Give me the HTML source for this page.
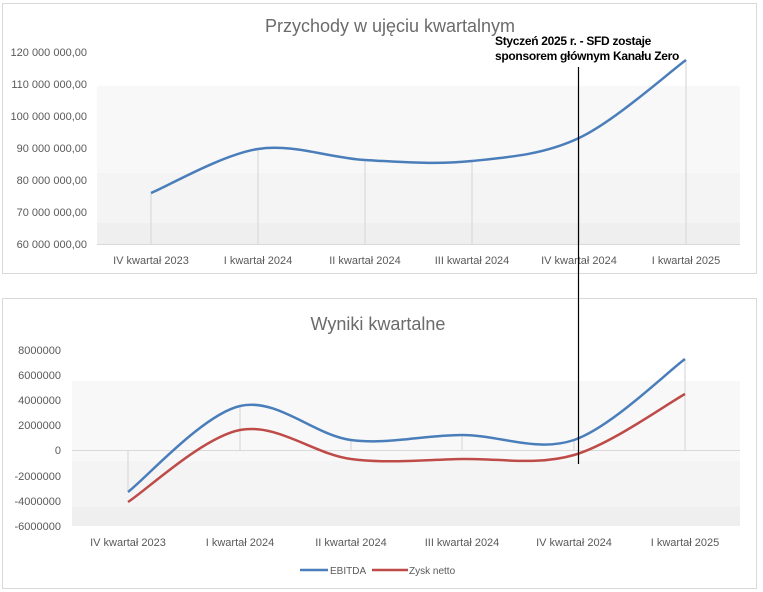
<!DOCTYPE html>
<html><head><meta charset="utf-8"><style>
html,body{margin:0;padding:0;background:#fff;width:763px;height:592px;overflow:hidden}
svg text{font-family:"Liberation Sans",sans-serif}
</style></head><body>
<svg id="s" width="763" height="592" xmlns="http://www.w3.org/2000/svg">
<rect x="0" y="0" width="763" height="592" fill="#fff"/>
<!-- top chart -->
<rect x="2.5" y="3.5" width="754" height="270" fill="#fff" stroke="#d9d9d9"/>
<rect x="97" y="86" width="643" height="87" fill="#f8f8f8"/>
<rect x="97" y="173" width="643" height="50" fill="#f4f4f4"/>
<rect x="97" y="223" width="643" height="21" fill="#efefef"/>
<line x1="97" y1="244.5" x2="740" y2="244.5" stroke="#d9d9d9"/>
<text x="390" y="32" font-size="18" fill="#6b6b6b" text-anchor="middle">Przychody w ujęciu kwartalnym</text>
<g font-size="11" fill="#595959" text-anchor="end">
<text x="87" y="56">120 000 000,00</text><text x="87" y="88">110 000 000,00</text>
<text x="87" y="120">100 000 000,00</text><text x="87" y="152">90 000 000,00</text>
<text x="87" y="184">80 000 000,00</text><text x="87" y="216">70 000 000,00</text>
<text x="87" y="248">60 000 000,00</text></g>
<g font-size="11" fill="#595959" text-anchor="middle">
<text x="151" y="264">IV kwartał 2023</text><text x="258" y="264">I kwartał 2024</text>
<text x="365" y="264">II kwartał 2024</text><text x="472" y="264">III kwartał 2024</text>
<text x="579" y="264">IV kwartał 2024</text><text x="686" y="264">I kwartał 2025</text></g>
<g id="d1" stroke="#d9d9d9" stroke-width="1.2"></g>
<path id="p1" fill="none" stroke="#4a7ebb" stroke-width="2.5"/>
<!-- bottom chart -->
<rect x="2.5" y="298.5" width="754" height="290" fill="#fff" stroke="#d9d9d9"/>
<rect x="72" y="381" width="668" height="80" fill="#f8f8f8"/>
<rect x="72" y="461" width="668" height="46" fill="#f4f4f4"/>
<rect x="72" y="507" width="668" height="19" fill="#efefef"/>
<line x1="72" y1="450.5" x2="740" y2="450.5" stroke="#d9d9d9"/>
<text x="378" y="330" font-size="18" fill="#6b6b6b" text-anchor="middle">Wyniki kwartalne</text>
<g font-size="11" fill="#595959" text-anchor="end">
<text x="61" y="354">8000000</text><text x="61" y="379">6000000</text>
<text x="61" y="404">4000000</text><text x="61" y="429">2000000</text>
<text x="61" y="454">0</text><text x="61" y="480">-2000000</text>
<text x="61" y="505">-4000000</text><text x="61" y="530">-6000000</text></g>
<g font-size="11" fill="#595959" text-anchor="middle">
<text x="128" y="546">IV kwartał 2023</text><text x="240" y="546">I kwartał 2024</text>
<text x="351" y="546">II kwartał 2024</text><text x="462" y="546">III kwartał 2024</text>
<text x="574" y="546">IV kwartał 2024</text><text x="685" y="546">I kwartał 2025</text></g>
<g id="d2" stroke="#d9d9d9" stroke-width="1.2"></g>
<path id="p2" fill="none" stroke="#4a7ebb" stroke-width="2.5"/>
<path id="p3" fill="none" stroke="#be4b48" stroke-width="2.5"/>
<line x1="300" y1="570" x2="328" y2="570" stroke="#4a7ebb" stroke-width="2.5"/>
<text x="330" y="574" font-size="10" fill="#595959">EBITDA</text>
<line x1="372" y1="570" x2="408" y2="570" stroke="#be4b48" stroke-width="2.5"/>
<text x="409" y="574" font-size="10" fill="#595959">Zysk netto</text>
<!-- annotation -->
<line x1="578.5" y1="67" x2="578.5" y2="464" stroke="#000" stroke-width="1.2"/>
<text x="495" y="45" font-size="12" font-weight="bold" fill="#000" letter-spacing="-0.3">Styczeń 2025 r. - SFD zostaje</text>
<text x="495" y="60" font-size="12" font-weight="bold" fill="#000" letter-spacing="-0.3">sponsorem głównym Kanału Zero</text>
</svg>
<script>
function path(p){var d="M"+p[0][0]+","+p[0][1];for(var i=0;i<p.length-1;i++){var a=p[i-1]||p[i],b=p[i],c=p[i+1],e=p[i+2]||c;var t=1/6;d+=" C"+(b[0]+(c[0]-a[0])*t)+","+(b[1]+(c[1]-a[1])*t)+" "+(c[0]-(e[0]-b[0])*t)+","+(c[1]-(e[1]-b[1])*t)+" "+c[0]+","+c[1];}return d;}
function drops(id,p,base){var g=document.getElementById(id);p.forEach(function(q){var l=document.createElementNS("http://www.w3.org/2000/svg","line");l.setAttribute("x1",q[0]);l.setAttribute("x2",q[0]);l.setAttribute("y1",q[1]);l.setAttribute("y2",base);g.appendChild(l);});}
var a=[[151,193],[258,149],[365,160],[472,161],[579,138],[686,60]];
document.getElementById("p1").setAttribute("d",path(a));drops("d1",a,244);
var b=[[128,492],[240,406],[351,440],[462,435],[574,440],[685,359]];
var c=[[128,502],[240,430],[351,459],[462,459],[574,455],[685,394]];
document.getElementById("p2").setAttribute("d",path(b));document.getElementById("p3").setAttribute("d",path(c));
drops("d2",[[128,492],[240,406],[351,440],[462,435],[574,440],[685,359]],450);
</script>
</body></html>
